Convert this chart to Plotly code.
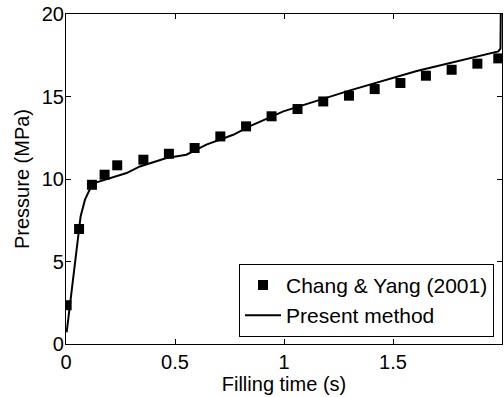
import plotly.graph_objects as go

exp_t = [0.003, 0.06, 0.119, 0.177, 0.235, 0.355, 0.472, 0.59, 0.708, 0.826,
         0.943, 1.062, 1.18, 1.298, 1.416, 1.534, 1.651, 1.769, 1.887, 1.983]
exp_p = [2.35, 6.97, 9.65, 10.26, 10.83, 11.17, 11.53, 11.88, 12.58, 13.19,
         13.8, 14.24, 14.70, 15.05, 15.45, 15.82, 16.26, 16.62, 16.99, 17.31]

sim_t = [0.003, 0.067, 0.087, 0.11, 0.14, 0.2, 0.278, 0.339, 0.461, 0.552,
         0.644, 0.767, 0.844, 0.997, 1.303, 1.609, 1.983, 1.993, 1.995]
sim_p = [0.7, 7.73, 8.75, 9.39, 9.8, 10.06, 10.36, 10.76, 11.27, 11.47,
         12.08, 12.68, 13.2, 14.1, 15.37, 16.55, 17.73, 17.9, 21.0]

FONT = "Arial"
FS = 20

fig = go.Figure()
fig.add_trace(go.Scatter(
    x=exp_t, y=exp_p, mode="markers", name="Chang & Yang (2001)",
    marker=dict(symbol="square", size=10, color="black"),
))
fig.add_trace(go.Scatter(
    x=sim_t, y=sim_p, mode="lines", name="Present method",
    line=dict(color="black", width=2),
))

axis_common = dict(
    showline=True, linecolor="black", linewidth=1.2, mirror="ticks",
    ticks="inside", ticklen=5, tickwidth=1, tickcolor="black",
    showgrid=False, zeroline=False,
    tickfont=dict(family=FONT, size=FS, color="black"),
)

fig.update_layout(
    width=504, height=397,
    margin=dict(l=66, r=2, t=14, b=53),
    paper_bgcolor="white", plot_bgcolor="white",
    font=dict(family=FONT, size=FS, color="black"),
    xaxis=dict(range=[0, 2], tickvals=[0, 0.5, 1, 1.5, 2],
               ticktext=["0", "0.5", "1", "1.5", "2"],
               title=dict(text="Filling time (s)", font=dict(family=FONT, size=FS), standoff=2),
               **axis_common),
    yaxis=dict(range=[0, 20], tickvals=[0, 5, 10, 15, 20],
               ticktext=["0", "5", "10", "15", "20"],
               ticklabelstandoff=-3,
               title=dict(text="Pressure (MPa)", font=dict(family=FONT, size=FS), standoff=6),
               **axis_common),
    legend=dict(x=0.9817, y=0.022, xanchor="right", yanchor="bottom",
                bordercolor="black", borderwidth=1, bgcolor="white",
                font=dict(family=FONT, size=21, color="black"),
                tracegroupgap=0, itemwidth=36),
    showlegend=True,
)

fig.write_html("out.html")
